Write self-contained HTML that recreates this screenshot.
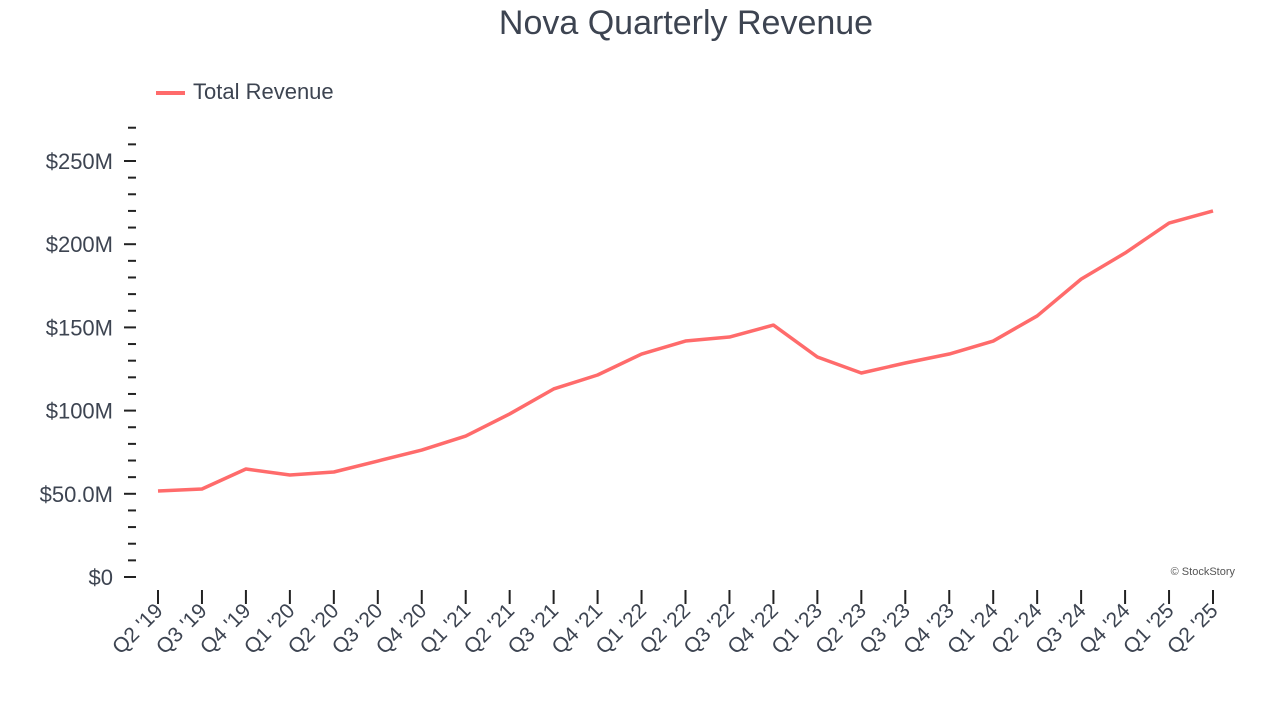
<!DOCTYPE html>
<html><head><meta charset="utf-8"><style>
html,body{margin:0;padding:0;background:#fff;}
svg{display:block;font-family:"Liberation Sans",Arial,sans-serif;}
</style></head><body>
<svg id="chart" width="1280" height="720" viewBox="0 0 1280 720">
<text x="686" y="34" text-anchor="middle" font-size="34" fill="#3d4451">Nova Quarterly Revenue</text>
<g>
<line x1="156" y1="93" x2="185" y2="93" stroke="#ff6b6b" stroke-width="4"/>
<text x="193" y="99" font-size="22" fill="#3d4451">Total Revenue</text>
</g>
<g id="yaxis"></g>
<g id="xaxis"></g>
<g id="series"></g>
<text x="1235" y="575" text-anchor="end" font-size="11" fill="#555">© StockStory</text>
</svg>
<script>
const categories = ["Q2 '19","Q3 '19","Q4 '19","Q1 '20","Q2 '20","Q3 '20","Q4 '20","Q1 '21","Q2 '21","Q3 '21","Q4 '21","Q1 '22","Q2 '22","Q3 '22","Q4 '22","Q1 '23","Q2 '23","Q3 '23","Q4 '23","Q1 '24","Q2 '24","Q3 '24","Q4 '24","Q1 '25","Q2 '25"];
const revenue = [51.7,52.9,64.9,61.3,63.1,69.7,76.3,84.7,98.0,113.0,121.4,134.0,141.8,144.2,151.4,132.2,122.6,128.6,134.0,141.8,156.9,179.0,194.7,212.7,220.0];
const yTickValues = [0,50,100,150,200,250];
const yTickLabels = ["$0","$50.0M","$100M","$150M","$200M","$250M"];
const yMax = 270;

const NS="http://www.w3.org/2000/svg";
function y(v){return 577 - v*(416/250);}
function x(i){return 158 + i*(1213-158)/(categories.length-1);}
function mk(tag,attrs,parent){const e=document.createElementNS(NS,tag);for(const k in attrs)e.setAttribute(k,attrs[k]);parent.appendChild(e);return e;}

const ya=document.getElementById('yaxis');
for(let v=0;v<=yMax;v+=10){
  const major=yTickValues.includes(v);
  const t=mk('line',{x1:major?124:128,x2:136,y1:y(v),y2:y(v),stroke:'#222','stroke-width':2},ya);
  
  
}
yTickValues.forEach((v,i)=>{
  const t=mk('text',{x:113,y:y(v)+8,'text-anchor':'end','font-size':22,fill:'#3d4451'},ya);
  t.textContent=yTickLabels[i];
  
  
});

const xa=document.getElementById('xaxis');
categories.forEach((c,i)=>{
  const l=mk('line',{x1:x(i),x2:x(i),y1:590,y2:604,stroke:'#222','stroke-width':2},xa);
  
  
  const t=mk('text',{x:x(i)+6,y:612,'text-anchor':'end','font-size':21,fill:'#3d4451',transform:`rotate(-45 ${x(i)+6} 612)`},xa);
  t.textContent=c;
  
  
});

const s=document.getElementById('series');
const p=mk('polyline',{points:revenue.map((v,i)=>x(i)+','+y(v)).join(' '),fill:'none',stroke:'#ff6b6b','stroke-width':3.5,'stroke-linejoin':'round'},s);


</script>
</body></html>
